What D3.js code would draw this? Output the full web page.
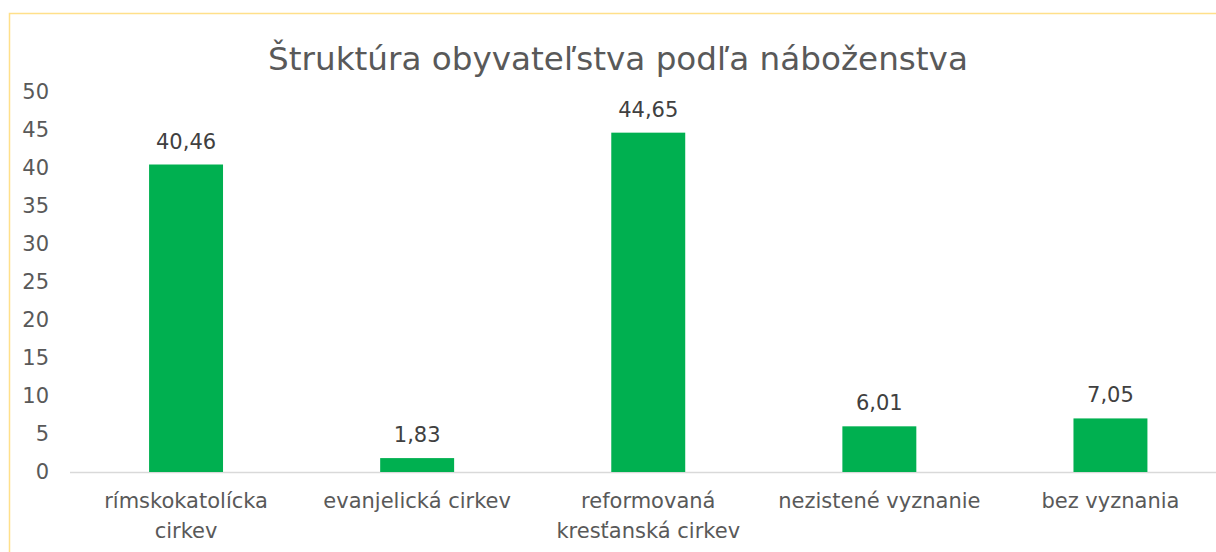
<!DOCTYPE html>
<html><head><meta charset="utf-8">
<script src="https://cdn.jsdelivr.net/npm/d3@7"></script>
<style>html,body{margin:0;padding:0;background:#fff;}svg{display:block;}</style>
</head><body>
<svg id="c" width="1216" height="552"></svg>
<script>
const categories = [["rímskokatolícka","cirkev"],["evanjelická cirkev"],["reformovaná","kresťanská cirkev"],["nezistené vyznanie"],["bez vyznania"]];
const values = [40.46, 1.83, 44.65, 6.01, 7.05];
const valueLabels = ["40,46","1,83","44,65","6,01","7,05"];
const yTicks = [0,5,10,15,20,25,30,35,40,45,50];
const title = "Štruktúra obyvateľstva podľa náboženstva";

const font = "'DejaVu Sans', Verdana, sans-serif";
const svg = d3.select("#c");
svg.append("rect").attr("x",9.5).attr("y",13.5).attr("width",1240).attr("height",600)
  .attr("fill","#fff").attr("stroke","#FFE08A").attr("stroke-width",1.5);

const tt = svg.append("text").attr("x",618).attr("y",70).attr("text-anchor","middle")
  .attr("font-family",font).attr("font-size",32).attr("fill","#595959").text(title);
const tw = tt.node().getComputedTextLength();
tt.attr("font-size", 32*700/tw);

const idx = d3.range(values.length);
const x = d3.scaleBand().domain(idx).range([70.5,1226]).paddingInner(0.68).paddingOuter(0.34);
const y = d3.scaleLinear().domain([0,50]).range([472,92]);

const yAxis = svg.append("g").attr("transform","translate(60,0)")
  .call(d3.axisLeft(y).tickValues(yTicks).tickSize(0).tickPadding(11));
yAxis.select(".domain").remove();
yAxis.selectAll("text").attr("font-family",font).attr("font-size",21).attr("fill","#595959");

svg.append("line").attr("x1",70).attr("x2",1216).attr("y1",y(0)+0.5).attr("y2",y(0)+0.5)
  .attr("stroke","#d9d9d9").attr("stroke-width",1.5);

svg.selectAll("rect.bar").data(values).join("rect").attr("class","bar")
  .attr("x",(d,i)=>x(i)).attr("width",x.bandwidth())
  .attr("y",d=>y(d)).attr("height",d=>y(0)-y(d)).attr("fill","#00B050");

svg.selectAll("text.vl").data(values).join("text").attr("class","vl")
  .attr("x",(d,i)=>x(i)+x.bandwidth()/2).attr("y",d=>y(d)-16)
  .attr("text-anchor","middle").attr("font-family",font).attr("font-size",21).attr("fill","#404040")
  .text((d,i)=>valueLabels[i]);

const xl = svg.selectAll("text.xl").data(categories).join("text").attr("class","xl")
  .attr("text-anchor","middle").attr("font-family",font).attr("font-size",21).attr("fill","#595959");
xl.each(function(lines,i){
  const t = d3.select(this);
  lines.forEach((l,k)=>{
    t.append("tspan").attr("x",x(i)+x.bandwidth()/2).attr("y",508+k*30).text(l);
  });
});
</script>
</body></html>
